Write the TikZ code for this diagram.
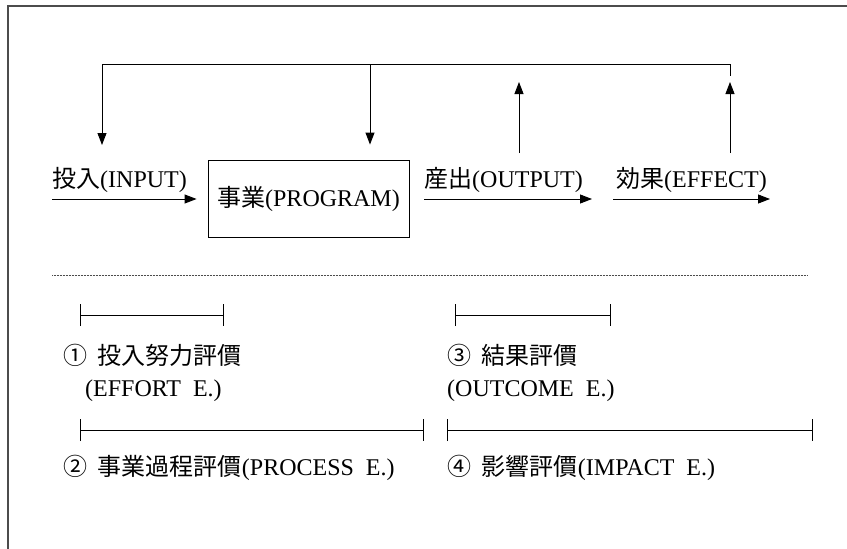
\documentclass[tikz,border=0pt]{standalone}
\usepackage{fontspec}
\setmainfont{Liberation Serif}
\newfontfamily\cjk{Noto Sans CJK JP}
\usetikzlibrary{arrows.meta}
\begin{document}
\begin{tikzpicture}[x=1pt,y=-1pt,
  frame/.style={draw=black!70,line width=1.6pt},
  conn/.style={draw=black,line width=0.9pt},
  arr/.style={conn,-{Triangle[length=12pt,width=9pt]}},
  span/.style={conn,{Bar[width=22pt]}-{Bar[width=22pt]}},
  lbl/.style={inner sep=0pt,anchor=west,font=\fontsize{24}{28}\selectfont},
  boxnode/.style={draw=black,line width=0.9pt,minimum width=201pt,minimum height=77pt,inner sep=0pt,font=\fontsize{24}{28}\selectfont}]
\useasboundingbox (0,0) rectangle (847,549);
% frame
\draw[frame] (8,549) -- (8,6) -- (847,6);
% top row labels
\node[lbl] (in) at (52,180) {{\cjk 投入}(INPUT)};
\node[boxnode] (box) at (308.5,198.5) {{\cjk 事業}(PROGRAM)};
\node[lbl] (out) at (424,180) {{\cjk 産出}(OUTPUT)};
\node[lbl] (eff) at (616,180) {{\cjk 効果}(EFFECT)};
% feedback line
\coordinate (t1) at (102,64);
\coordinate (t2) at (370,64);
\coordinate (t3) at (730,64);
\coordinate (t3b) at (730,76);
\coordinate (d1) at (102,145);
\coordinate (u1s) at (519,153);
\coordinate (u1e) at (519,82);
\coordinate (u2s) at (730,153);
\coordinate (u2e) at (730,82);
\draw[conn] (t1) -- (t3) -- (t3b);
\draw[arr] (t1) -- (d1);
\draw[arr] (t2) -- ([yshift=15pt]t2 |- box.north);
\draw[arr] (u1s) -- (u1e);
\draw[arr] (u2s) -- (u2e);
% horizontal arrows
\coordinate (a1s) at (52,199);
\draw[arr] (a1s) -- ([xshift=-11pt]box.west |- a1s);
\coordinate (a2s) at (424,199);
\coordinate (a2e) at (592,199);
\draw[arr] (a2s) -- (a2e);
\coordinate (a3s) at (613,199);
\coordinate (a3e) at (770,199);
\draw[arr] (a3s) -- (a3e);
% separator
\coordinate (s1) at (52,275);
\coordinate (s2) at (808,275);
\draw[black!70,line width=0.8pt,dash pattern=on 1pt off 0.5pt] (s1) -- (s2);
% spans
\coordinate (b1s) at (80,315);  \coordinate (b1e) at (224,315);
\coordinate (b2s) at (80,430);  \coordinate (b2e) at (424,430);
\coordinate (b3s) at (455,315); \coordinate (b3e) at (611,315);
\coordinate (b4s) at (447,430); \coordinate (b4e) at (813,430);
\draw[span] (b1s) -- (b1e);
\draw[span] (b2s) -- (b2e);
\draw[span] (b3s) -- (b3e);
\draw[span] (b4s) -- (b4e);
% evaluation labels
\node[lbl] (e1) at (63,355) {{\cjk ①\ \ 投入努力評價}};
\node[lbl] (e1b) at (85,391) {(EFFORT\ \ E.)};
\node[lbl] (e2) at (63,468) {{\cjk ②\ \ 事業過程評價}(PROCESS\ \ E.)};
\node[lbl] (e3) at (447,355) {{\cjk ③\ \ 結果評價}};
\node[lbl] (e3b) at (447,391) {(OUTCOME\ \ E.)};
\node[lbl] (e4) at (447,468) {{\cjk ④\ \ 影響評價}(IMPACT\ \ E.)};
\end{tikzpicture}
\end{document}
